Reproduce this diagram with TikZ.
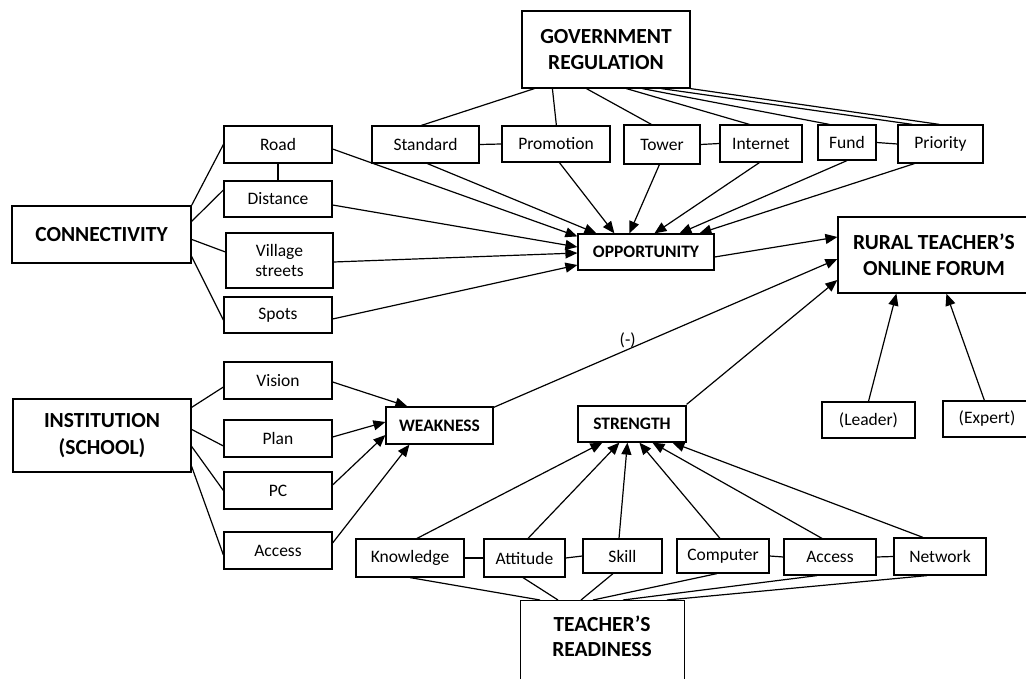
\documentclass[tikz,border=0pt]{standalone}
\usepackage{fontspec}
\setmainfont{Carlito}
\usetikzlibrary{arrows.meta,calc}
\begin{document}
\begin{tikzpicture}[x=1pt,y=-1pt,
 box/.style={draw,line width=1.2pt,inner sep=0pt,align=center,font=\fontsize{17.5}{20}\selectfont},
 bigbox/.style={box,font=\bfseries\fontsize{21.5}{26.5}\selectfont},
 midbox/.style={box,font=\bfseries\fontsize{17.5}{20}\selectfont},
 link/.style={line width=1.2pt},
 arr/.style={link,-{Triangle[length=12pt,width=10pt]}},
 lbl/.style={font=\fontsize{17.5}{20}\selectfont,inner sep=1pt}
]
\useasboundingbox (0,0) rectangle (1026,679);
\clip (0,0) rectangle (1026,679);

% top group
\node[bigbox,minimum width=168pt,minimum height=77pt] (gov) at (606,49.5) {GOVERNMENT\\REGULATION};
\node[box,minimum width=107pt,minimum height=37pt] (standard) at (425.5,144.5) {Standard};
\node[box,minimum width=108pt,minimum height=36pt] (promotion) at (556,144) {Promotion};
\node[box,minimum width=76pt,minimum height=39pt] (tower) at (662,144.5) {Tower};
\node[box,minimum width=82pt,minimum height=37pt] (internet) at (761,143.5) {Internet};
\node[box,minimum width=58pt,minimum height=35pt] (fund) at (847,142.5) {Fund};
\node[box,minimum width=85pt,minimum height=38pt] (priority) at (940.5,144) {Priority};

% connectivity group
\node[bigbox,minimum width=179pt,minimum height=57pt] (conn) at (101.5,234.5) {CONNECTIVITY};
\node[box,minimum width=108pt,minimum height=37pt] (road) at (278,144.5) {Road};
\node[box,minimum width=108pt,minimum height=36pt] (distance) at (278,199) {Distance};
\node[box,minimum width=107pt,minimum height=55pt] (village) at (279.5,260.5) {Village\\streets};
\node[box,minimum width=108pt,minimum height=36pt] (spots) at (278,315) {Spots};

\node[midbox,minimum width=136pt,minimum height=36pt] (opp) at (646,252) {OPPORTUNITY};
\node[bigbox,minimum width=192pt,minimum height=76pt] (rural) at (934,255) {RURAL TEACHER’S\\ONLINE FORUM};

% institution group
\node[bigbox,minimum width=178pt,minimum height=73pt] (inst) at (102,435.5) {INSTITUTION\\(SCHOOL)};
\node[box,minimum width=108pt,minimum height=37pt] (vision) at (278,380.5) {Vision};
\node[box,minimum width=108pt,minimum height=37pt] (plan) at (278,438.5) {Plan};
\node[box,minimum width=108pt,minimum height=37pt] (pc) at (278,490.5) {PC};
\node[box,minimum width=108pt,minimum height=37pt] (access) at (278,550.5) {Access};

\node[midbox,minimum width=107pt,minimum height=37pt] (weak) at (439.5,425.5) {WEAKNESS};
\node[midbox,minimum width=108pt,minimum height=36pt] (strength) at (632,424) {STRENGTH};
\node[box,minimum width=93pt,minimum height=36pt] (leader) at (868.5,420) {(Leader)};
\node[box,minimum width=88pt,minimum height=36pt] (expert) at (987,419) {(Expert)};

% readiness group
\node[box,minimum width=108pt,minimum height=38pt] (knowledge) at (410,558) {Knowledge};
\node[box,minimum width=81pt,minimum height=38pt] (attitude) at (524.5,558) {Attitude};
\node[box,minimum width=79pt,minimum height=34pt] (skill) at (622.5,556) {Skill};
\node[box,minimum width=92pt,minimum height=34pt] (computer) at (723,556) {Computer};
\node[box,minimum width=92pt,minimum height=36pt] (access2) at (830,557) {Access};
\node[box,minimum width=92pt,minimum height=37pt] (network) at (940,556.5) {Network};
\node[box,minimum width=164pt,minimum height=110pt,anchor=north west] (rbox) at (520,600) {};
\node[font=\bfseries\fontsize{21.5}{25}\selectfont,align=center,inner sep=0pt] (readiness) at (602,636) {TEACHER’S\\READINESS};

% government links
\draw[link] ($(gov.south west)+(13,0)$) -- ($(standard.north west)+(50,0)$);
\draw[link] ($(gov.south west)+(31,0)$) -- ($(promotion.north west)+(55,0)$);
\draw[link] ($(gov.south west)+(65,0)$) -- ($(tower.north west)+(28,0)$);
\draw[link] ($(gov.south west)+(105,0)$) -- ($(internet.north west)+(30,0)$);
\draw[link] ($(gov.south west)+(121,0)$) -- ($(fund.north west)+(12,0)$);
\draw[link] ($(gov.south west)+(140,0)$) -- ($(priority.north west)+(15,0)$);
\draw[link] (gov.south east) -- ($(priority.north west)+(42,0)$);
\draw[link] (standard.east) -- (promotion.west);
\draw[link] (tower.east) -- (internet.west);
\draw[link] (fund.east) -- (priority.west);

% connectivity links
\draw[link] (road.south) -- (distance.north);
\draw[link] (conn.north east) -- (road.west);
\draw[link] ($(conn.north east)+(0,16)$) -- ($(distance.west)+(0,-9)$);
\draw[link] ($(conn.north east)+(0,34)$) -- ($(village.west)+(0,-8.5)$);
\draw[link] ($(conn.north east)+(0,51)$) -- ($(spots.west)+(0,5)$);

% arrows to opportunity
\draw[arr] ($(road.east)+(0,4.5)$) -- ($(opp.north west)+(0,3)$);
\draw[arr] ($(standard.south west)+(56,0)$) -- ($(opp.north west)+(19,0)$);
\draw[arr] ($(distance.east)+(0,6)$) -- ($(opp.west)+(0,-5)$);
\draw[arr] ($(village.east)+(0,1.5)$) -- ($(opp.west)+(0,1)$);
\draw[arr] ($(spots.east)+(0,4)$) -- ($(opp.west)+(0,13)$);
\draw[arr] ($(promotion.south west)+(58,0)$) -- ($(opp.north west)+(37,0)$);
\draw[arr] ($(tower.south west)+(36,0)$) -- ($(opp.north west)+(52,0)$);
\draw[arr] ($(internet.south west)+(40,0)$) -- ($(opp.north west)+(77,0)$);
\draw[arr] (fund.south) -- ($(opp.north west)+(102,0)$);
\draw[arr] ($(priority.south west)+(17,0)$) -- ($(opp.north west)+(122,0)$);

% institution links
\draw[link] ($(inst.north east)+(0,9)$) -- ($(vision.west)+(0,6.5)$);
\draw[link] ($(inst.north east)+(0,31)$) -- ($(plan.west)+(0,7.5)$);
\draw[link] ($(inst.north east)+(0,48)$) -- (pc.west);
\draw[link] ($(inst.north east)+(0,68)$) -- ($(access.west)+(0,4.5)$);

% arrows to weakness
\draw[arr] ($(vision.east)+(0,1.5)$) -- ($(weak.north west)+(22,0)$);
\draw[arr] ($(plan.east)+(0,-1.5)$) -- ($(weak.west)+(0,-3.5)$);
\draw[arr] ($(pc.east)+(0,-5.5)$) -- ($(weak.west)+(0,9.5)$);
\draw[arr] ($(access.east)+(0,-7.5)$) -- ($(weak.south west)+(24,0)$);

% arrows to forum
\draw[arr] ($(opp.east)+(0,5)$) -- ($(rural.west)+(0,-18)$);
\draw[arr] ($(weak.north east)+(0,1)$) -- node[lbl,pos=0.39,above=0pt] (neg) {(-)} ($(rural.west)+(0,4)$);
\draw[arr] ($(strength.north east)+(0,-1)$) -- ($(rural.west)+(0,25)$);
\draw[arr] (leader.north) -- ($(rural.south west)+(59,0)$);
\draw[arr] ($(expert.north west)+(42,0)$) -- ($(rural.south west)+(109,0)$);

% arrows to strength
\draw[arr] ($(knowledge.north)+(7,0)$) -- ($(strength.south west)+(25,0)$);
\draw[arr] ($(attitude.north)+(3.5,0)$) -- ($(strength.south west)+(42,0)$);
\draw[arr] ($(skill.north)+(-3.5,0)$) -- ($(strength.south west)+(50,0)$);
\draw[arr] ($(computer.north)+(-3,0)$) -- ($(strength.south west)+(62,0)$);
\draw[arr] ($(access2.north)+(-8,0)$) -- ($(strength.south west)+(75,0)$);
\draw[arr] ($(network.north)+(-17,0)$) -- ($(strength.south west)+(95,0)$);

% readiness links
\draw[link] (knowledge.east) -- (attitude.west);
\draw[link] (attitude.east) -- (skill.west);
\draw[link] (computer.east) -- (access2.west);
\draw[link] (access2.east) -- (network.west);
\draw[link] (knowledge.south) -- ($(rbox.north west)+(20,0)$);
\draw[link] ($(attitude.south)+(-1.5,0)$) -- ($(rbox.north west)+(38,0)$);
\draw[link] ($(skill.south)+(-9.5,0)$) -- ($(rbox.north west)+(61,0)$);
\draw[link] ($(computer.south)+(-6,0)$) -- ($(rbox.north west)+(73,0)$);
\draw[link] ($(access2.south)+(-13,0)$) -- ($(rbox.north west)+(103,0)$);
\draw[link] ($(network.south)+(-13,0)$) -- ($(rbox.north west)+(147,0)$);
\end{tikzpicture}
\end{document}
